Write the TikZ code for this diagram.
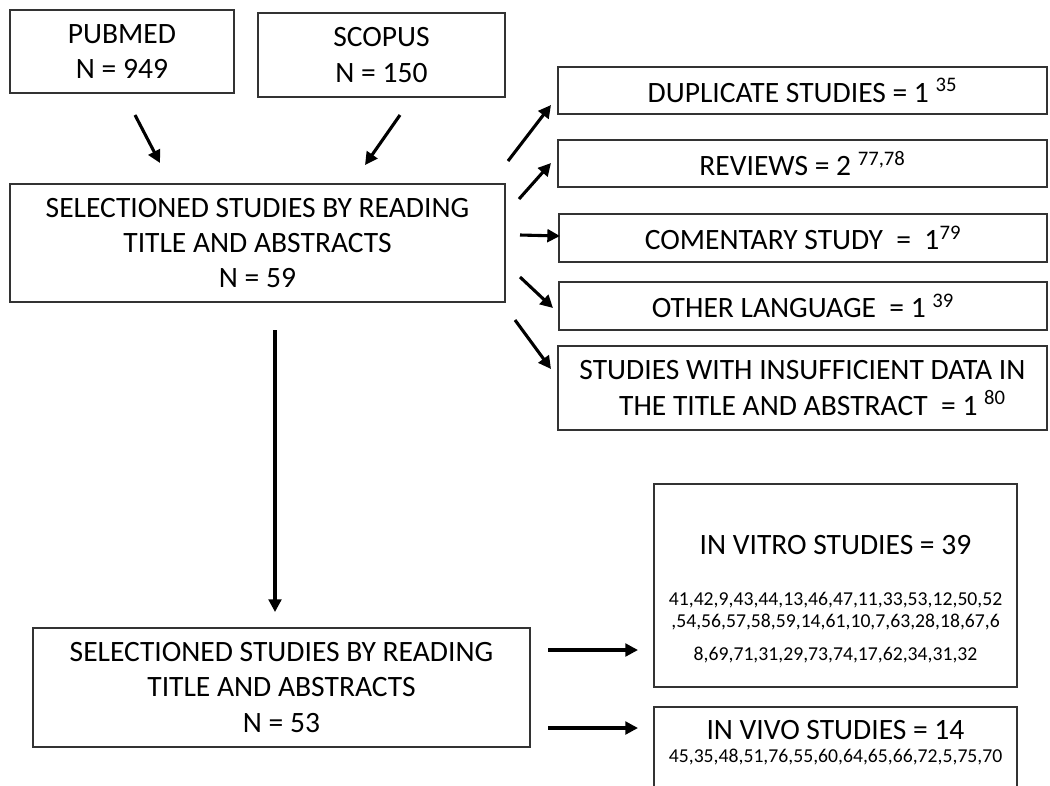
\documentclass[tikz,border=0pt]{standalone}
\usepackage{fontspec}
\setmainfont{Carlito}
\usetikzlibrary{arrows.meta,positioning}
\newdimen\px \px=0.025cm

\begin{document}
\begin{tikzpicture}[x=0.025cm,y=-0.025cm,
		box/.style={draw=black!80,line width=0.8pt,align=center,inner sep=0pt,font=\fontsize{21}{25}\selectfont},
		plain/.style={inner sep=0pt,align=center},
		arr/.style={line width=2.2pt,-{Triangle[length=9pt,width=9pt]}}]
	\useasboundingbox (0,0) rectangle (1050,785);
	\clip (0,0) rectangle (1050,785);
	% sources
	\node [box,minimum width=224\px,minimum height=83\px] (pubmed) at (122,51.5) {PUBMED\\N = 949};
	\node [box,minimum width=247\px,minimum height=84\px] (scopus) at (381.5,55) {SCOPUS\\N = 150};
	\node [box,minimum width=495\px,minimum height=118\px] (screen) at (257.5,243) {SELECTIONED STUDIES BY READING\\TITLE AND ABSTRACTS\\N = 59};
	% excluded
	\node [box,minimum width=489\px,minimum height=47\px] (dup) at (802.5,90.5) {DUPLICATE STUDIES = 1 \textsuperscript{35}};
	\node [box,minimum width=489\px,minimum height=47\px] (rev) at (802.5,163.5) {REVIEWS = 2 \textsuperscript{77,78}};
	\node [box,minimum width=488\px,minimum height=48\px] (com) at (803,238) {COMENTARY STUDY\ \ =\ \ 1\textsuperscript{79}};
	\node [box,minimum width=488\px,minimum height=48\px] (lang) at (803,306) {OTHER LANGUAGE\ \ = 1 \textsuperscript{39}};
	\node [box,minimum width=489\px,minimum height=84\px] (insuf) at (802.5,388) {STUDIES WITH INSUFFICIENT DATA IN\\\ \ \ THE TITLE AND ABSTRACT\ \ = 1 \textsuperscript{80}};
	% included
	\node [box,minimum width=497\px,minimum height=119\px] (final) at (281.5,687.5) {SELECTIONED STUDIES BY READING\\TITLE AND ABSTRACTS\\N = 53};
	\node [box,minimum width=363\px,minimum height=203\px] (vitro) at (835.5,585.5) {};
	\node [plain,font=\fontsize{21}{25}\selectfont] (vitrot) at (835.5,545) {IN VITRO STUDIES = 39};
	\node [plain,font=\fontsize{14}{16}\selectfont] (vitrol) at (835.5,611) {41,42,9,43,44,13,46,47,11,33,53,12,50,52\\,54,56,57,58,59,14,61,10,7,63,28,18,67,6};
	\node [plain,font=\fontsize{14}{16}\selectfont] (vitrom) at (835.5,655) {8,69,71,31,29,73,74,17,62,34,31,32};
	\node [box,minimum width=363\px,minimum height=110\px] (vivo) at (835.5,762) {};
	\node [plain,font=\fontsize{21}{25}\selectfont] (vivot) at (835.5,730) {IN VIVO STUDIES = 14};
	\node [plain,font=\fontsize{14}{16}\selectfont] (vivol) at (835.5,757) {45,35,48,51,76,55,60,64,65,66,72,5,75,70};
	% arrow ends
	\coordinate (p1) at (135,115); \coordinate (p2) at (160,163);
	\coordinate (s1) at (400,115); \coordinate (s2) at (365,165);
	\coordinate (d1) at (508,161); \coordinate (d2) at (551,105);
	\coordinate (r1) at (519,199); \coordinate (r2) at (551,163);
	\coordinate (c1) at (520,235); \coordinate (c2) at (560,236);
	\coordinate (l1) at (520,277); \coordinate (l2) at (553,308);
	\coordinate (i1) at (515,320); \coordinate (i2) at (551,369);
	\coordinate (v1) at (275,330); \coordinate (v2) at (275,612);
	\coordinate (a1) at (548,650); \coordinate (a2) at (638,650);
	\coordinate (b1) at (548,728); \coordinate (b2) at (638,728);
	\draw [arr] (p1) -- (p2);
	\draw [arr] (s1) -- (s2);
	\draw [arr] (d1) -- (d2);
	\draw [arr] (r1) -- (r2);
	\draw [arr] (c1) -- (c2);
	\draw [arr] (l1) -- (l2);
	\draw [arr] (i1) -- (i2);
	\draw [arr] (v1) -- (v2);
	\draw [arr] (a1) -- (a2);
	\draw [arr] (b1) -- (b2);
\end{tikzpicture}
\end{document}
